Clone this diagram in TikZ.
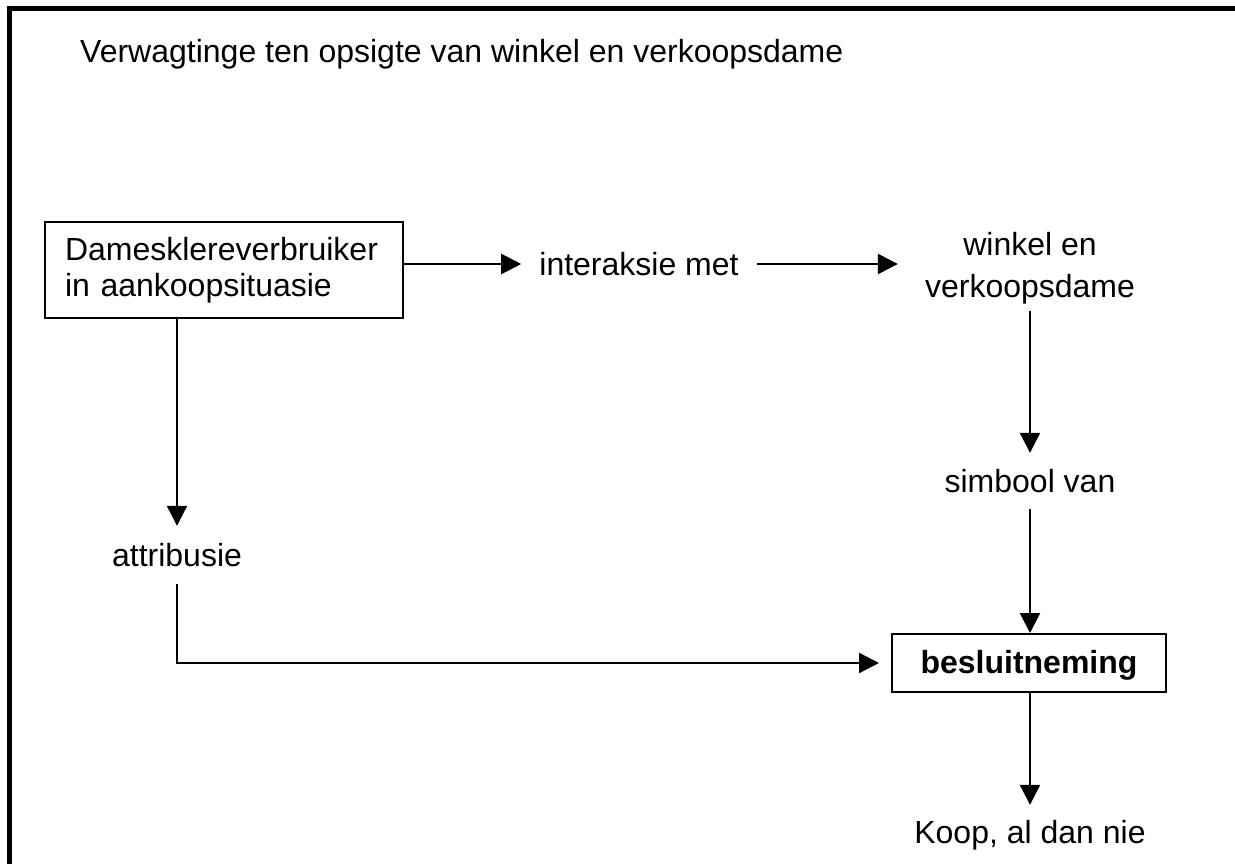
\documentclass[tikz,border=0pt]{standalone}
\usepackage{fontspec}
\setmainfont{Liberation Sans}
\usetikzlibrary{arrows.meta}
\tikzset{
  lbl/.style={font=\fontsize{32}{36}\selectfont, text height=26pt, text depth=4pt, inner sep=0pt},
  boxed/.style={draw, line width=2pt},
  arr/.style={line width=2.2pt, -{Triangle[length=20pt,width=20pt]}},
  frame/.style={line width=5pt}
}
\begin{document}
\begin{tikzpicture}[x=1pt,y=-1pt]
\useasboundingbox (0,0) rectangle (1235,864);
% outer frame (left and top)
\coordinate (fbl) at (9.5,864);
\coordinate (ftl) at (9.5,8.5);
\coordinate (ftr) at (1235,8.5);
\draw[frame] (fbl) -- (ftl) -- (ftr);

\node[lbl, anchor=west] (title) at (80,52) {Verwagtinge ten opsigte van winkel en verkoopsdame};

\node[boxed, font=\fontsize{32}{36}\selectfont, text width=318pt, inner xsep=20pt, inner ysep=0pt,
      minimum height=96pt, align=left] (box1) at (224,270) {Damesklereverbruiker\\in aankoopsituasie};

\node[lbl, inner xsep=18pt] (inter) at (639,264) {interaksie met};

\node[font=\fontsize{32}{42}\selectfont, align=center, inner xsep=27pt, inner ysep=7pt] (winkel) at (1030,268) {winkel en\\verkoopsdame};

\node[lbl, inner ysep=13pt] (simbool) at (1030,481) {simbool van};

\node[boxed, font=\bfseries\fontsize{32}{36}\selectfont, text height=25pt, text depth=5pt,
      minimum width=274pt, minimum height=58pt, inner sep=0pt] (besl) at (1029,663) {besluitneming};

\node[lbl, inner ysep=12pt] (koop) at (1030,832) {Koop, al dan nie};

\node[lbl, inner ysep=14pt] (attr) at (177,555) {attribusie};

\draw[arr] (box1.east |- inter.west) -- (inter.west);
\draw[arr] (inter.east) -- (winkel.west |- inter.east);
\draw[arr] (winkel.south) -- (simbool.north);
\draw[arr] (simbool.south) -- (besl.north -| simbool.south);
\draw[arr] (besl.south -| koop.north) -- (koop.north);
\draw[arr] (box1.south -| attr.north) -- (attr.north);
\draw[arr, shorten >=12pt] (attr.south) |- (besl.west);
\end{tikzpicture}
\end{document}
